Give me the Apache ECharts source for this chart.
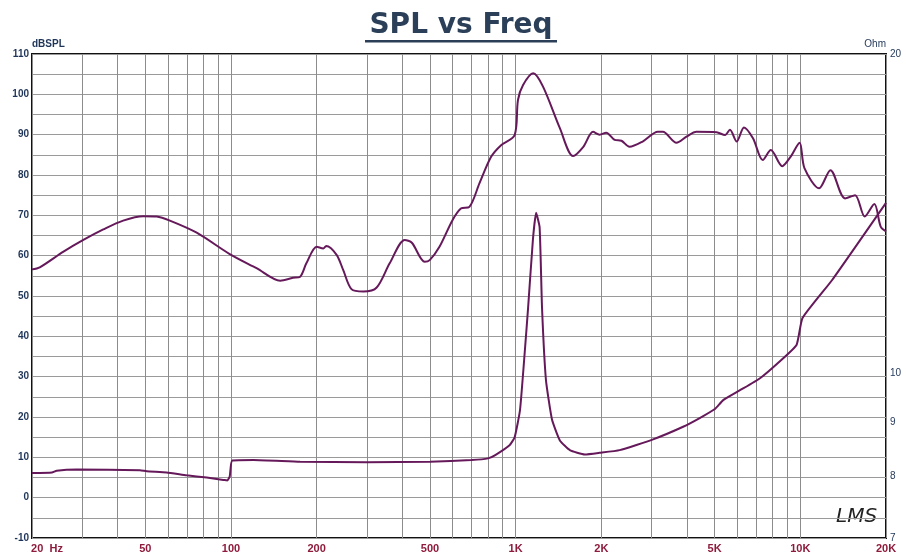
<!DOCTYPE html>
<html>
<head>
<meta charset="utf-8">
<title>SPL vs Freq</title>
<script src="https://cdn.jsdelivr.net/npm/echarts@6/dist/echarts.min.js"></script>
<style>
  html, body { margin: 0; padding: 0; background: #fff; }
  #chart { width: 906px; height: 557px; }
</style>
</head>
<body>
<div id="chart"></div>
<script>
// frequency axis (Hz), log scale
const freqTicks = [20, 50, 100, 200, 500, 1000, 2000, 5000, 10000, 20000];
const freqTickLabels = ['20  Hz', '50', '100', '200', '500', '1K', '2K', '5K', '10K', '20K'];
const freqGrid = [20, 30, 40, 50, 60, 70, 80, 90, 100, 200, 300, 400, 500, 600, 700, 800, 900,
  1000, 2000, 3000, 4000, 5000, 6000, 7000, 8000, 9000, 10000, 20000];
// impedance axis (Ohm), log scale
const ohmTicks = [7, 8, 9, 10, 20];

// SPL curve
const splFreq = [20, 21.3, 25.8, 30.3, 35.6, 41.8, 49.2, 54.8, 61, 75.8, 99, 123, 149, 165, 175, 184,
  200, 211, 216, 235, 248, 265, 292, 325, 361, 408, 432, 479, 499, 540, 600, 642, 688, 746, 820,
  889, 992, 1019, 1062, 1152, 1248, 1430, 1592, 1726, 1870, 1972, 2080, 2228, 2354, 2512, 2794,
  3160, 3290, 3672, 3982, 4320, 5080, 5440, 5660, 5980, 6340, 6820, 7380, 7880, 8640, 9240, 9940,
  10340, 11640, 12760, 14360, 15580, 16840, 18200, 19160, 20000];
const splDb = [56.6, 57.1, 61.0, 63.9, 66.5, 68.7, 69.8, 69.7, 68.7, 65.7, 60.4, 56.9, 53.8, 54.5, 54.8, 58.1,
  62.2, 61.8, 62.4, 60.2, 56.4, 51.7, 51.1, 52.1, 58.1, 63.9, 63.2, 58.5, 58.9, 62.2, 68.8, 71.7, 72.1, 77.9, 84.5,
  87.4, 89.9, 98.6, 102.3, 105.2, 101.9, 91.6, 84.7, 86.9, 90.7, 90.0, 90.5, 88.7, 88.5, 87.0, 88.3,
  90.7, 90.7, 88.0, 89.5, 90.7, 90.6, 89.9, 91.2, 88.3, 91.8, 89.1, 83.7, 86.2, 82.2, 84.5, 88.0,
  81.7, 76.7, 81.2, 74.2, 75.0, 69.7, 72.8, 67.2, 66.0];

// impedance curve
const impFreq = [20, 23.5, 24.4, 28.7, 47.9, 50.6, 59.4, 69.8, 82.2, 94, 97, 99, 101, 120, 175, 300, 500,
  700, 800, 848, 952, 992, 1036, 1078, 1106, 1150, 1180, 1214, 1238, 1278, 1342, 1430, 1550, 1750,
  1972, 2320, 3040, 3876, 4432, 5012, 5360, 6120, 7220, 8440, 9700, 10180, 12940, 20000];
const impOhm = [8.06, 8.07, 8.10, 8.12, 8.11, 8.09, 8.07, 8.02, 7.98, 7.94, 7.93, 8.0, 8.28, 8.29, 8.26, 8.25, 8.26,
  8.29, 8.32, 8.38, 8.56, 8.71, 9.24, 10.53, 11.53, 13.37, 14.17, 13.74, 11.53, 9.86, 9.05, 8.65, 8.47, 8.39,
  8.42, 8.47, 8.67, 8.91, 9.08, 9.26, 9.44, 9.64, 9.90, 10.26, 10.64, 11.28, 12.25, 14.48];

const lg = Math.log10;
const lineColor = '#65195a';
const labelFont = 'Liberation Sans';

var chart = echarts.init(document.getElementById('chart'));

function freqLabel(v) {
  const f = Math.round(Math.pow(10, v));
  const i = freqTicks.indexOf(f);
  if (i < 0) return '';
  if (i === 0) return '{first|' + freqTickLabels[i] + '}';
  return freqTickLabels[i];
}

var option = {
  backgroundColor: '#fff',
  animation: false,
  graphic: [
    { type: 'text', x: 461, y: 12,
      style: { text: 'SPL vs Freq', font: 'bold 28px "DejaVu Sans"', fill: '#2b4058', textAlign: 'center' } },
    { type: 'rect', shape: { x: 365, y: 40, width: 192, height: 2.5 }, style: { fill: '#2b4058' } },
    { type: 'text', x: 836, y: 507,
      style: { text: 'LMS', font: 'italic 20px "DejaVu Sans"', fill: '#222' } }
  ],
  grid: {
    left: 32, right: 20, top: 54, bottom: 19,
    show: true, borderColor: '#111', borderWidth: 2, backgroundColor: '#fff'
  },
  xAxis: {
    type: 'value',
    min: lg(20),
    max: lg(20000),
    axisLine: { show: false },
    axisTick: { show: false, customValues: freqGrid.map(lg) },
    splitLine: { show: true, lineStyle: { color: '#8c8c8c', width: 1 } },
    axisLabel: {
      customValues: freqTicks.map(lg),
      formatter: freqLabel,
      margin: 5,
      color: '#8e1b3c',
      fontFamily: labelFont,
      fontSize: 11,
      fontWeight: 'bold',
      rich: {
        first: { padding: [0, 0, 0, 30], color: '#8e1b3c', fontFamily: labelFont, fontSize: 11, fontWeight: 'bold' }
      }
    }
  },
  yAxis: [
    {
      type: 'value',
      min: -10,
      max: 110,
      interval: 5,
      name: 'dBSPL',
      nameLocation: 'end',
      nameGap: 3,
      nameTextStyle: { align: 'left', color: '#1f3558', fontFamily: labelFont, fontSize: 10, fontWeight: 'bold' },
      axisLine: { show: false },
      axisTick: { show: false },
      splitLine: { show: true, lineStyle: { color: '#9a9a9a', width: 1 } },
      axisLabel: {
        formatter: function (v) { return v % 10 === 0 ? String(v) : ''; },
        margin: 3,
        color: '#1f3558',
        fontFamily: labelFont,
        fontSize: 10,
        fontWeight: 'bold'
      }
    },
    {
      type: 'value',
      min: lg(7),
      max: lg(20),
      position: 'right',
      name: 'Ohm',
      nameLocation: 'end',
      nameGap: 3,
      nameTextStyle: { align: 'right', color: '#1f3558', fontFamily: labelFont, fontSize: 10 },
      axisLine: { show: false },
      axisTick: { show: false },
      splitLine: { show: false },
      axisLabel: {
        customValues: ohmTicks.map(lg),
        formatter: function (v) { return String(Math.round(Math.pow(10, v))); },
        margin: 4,
        color: '#1f3558',
        fontFamily: labelFont,
        fontSize: 10
      }
    }
  ],
  series: [
    {
      name: 'SPL',
      type: 'line',
      yAxisIndex: 0,
      showSymbol: false,
      smooth: 0.3,
      lineStyle: { color: lineColor, width: 2 },
      data: splFreq.map((f, i) => [lg(f), splDb[i]])
    },
    {
      name: 'Impedance',
      type: 'line',
      yAxisIndex: 1,
      showSymbol: false,
      smooth: 0.15,
      lineStyle: { color: lineColor, width: 2 },
      data: impFreq.map((f, i) => [lg(f), lg(impOhm[i])])
    }
  ]
};

option && chart.setOption(option);
</script>
</body>
</html>
